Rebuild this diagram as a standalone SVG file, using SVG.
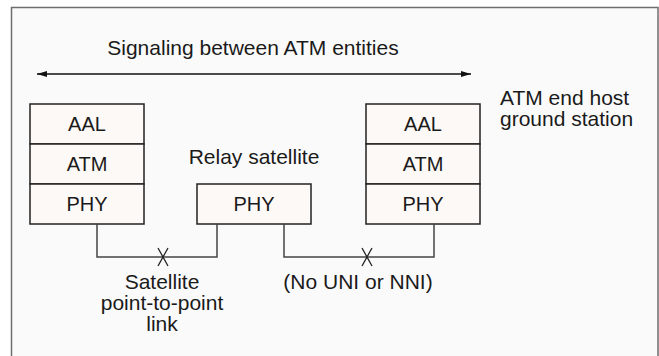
<svg xmlns="http://www.w3.org/2000/svg" width="659" height="356" viewBox="0 0 659 356">
<style>
  text { font-family: "Liberation Sans", Arial, sans-serif; fill: #1a1a1a; }
  .lbl { font-size: 21px; }
  .box { font-size: 20px; text-anchor: middle; }
  .cell { fill: #fdf9f6; stroke: #222; stroke-width: 1.5; }
  .conn { fill: none; stroke: #444; stroke-width: 1.5; }
  .mark { fill: none; stroke: #222; stroke-width: 1.3; }
</style>
<defs>
  <marker id="ah" viewBox="0 0 10 6" refX="10" refY="3" markerWidth="10" markerHeight="6" markerUnits="userSpaceOnUse" orient="auto-start-reverse">
    <path d="M0,0 L10,3 L0,6 Z" fill="#111"/>
  </marker>
</defs>
<rect x="0" y="0" width="659" height="356" fill="#ffffff"/>
<rect x="11.5" y="7.5" width="646.5" height="360" fill="#fafafa" stroke="#6e6e6e" stroke-width="1.5"/>

<g id="signaling">
  <text class="lbl" x="253" y="55" text-anchor="middle">Signaling between ATM entities</text>
  <line x1="37" y1="74" x2="471" y2="74" stroke="#111" stroke-width="1.5" marker-start="url(#ah)" marker-end="url(#ah)"/>
</g>

<g id="left-host">
  <rect class="cell" x="30" y="104" width="114" height="40"/>
  <rect class="cell" x="30" y="144" width="114" height="40"/>
  <rect class="cell" x="30" y="184" width="114" height="40"/>
  <text class="box" x="87" y="131">AAL</text>
  <text class="box" x="87" y="171">ATM</text>
  <text class="box" x="87" y="211">PHY</text>
</g>

<g id="relay">
  <text class="lbl" x="254" y="164" text-anchor="middle">Relay satellite</text>
  <rect class="cell" x="197" y="184" width="114" height="40"/>
  <text class="box" x="254" y="211">PHY</text>
</g>

<g id="right-host">
  <rect class="cell" x="366" y="104" width="114" height="40"/>
  <rect class="cell" x="366" y="144" width="114" height="40"/>
  <rect class="cell" x="366" y="184" width="114" height="40"/>
  <text class="box" x="423" y="131">AAL</text>
  <text class="box" x="423" y="171">ATM</text>
  <text class="box" x="423" y="211">PHY</text>
  <text class="lbl" x="500" y="105">ATM end host</text>
  <text class="lbl" x="500" y="126">ground station</text>
</g>

<g id="connectors">
  <path class="conn" d="M97 224 V257 H217 V224"/>
  <path class="conn" d="M284 224 V257 H434 V224"/>
  <path class="mark" d="M158 248 L168 266 M168 248 L158 266"/>
  <path class="mark" d="M362 248 L372 266 M372 248 L362 266"/>
  <text class="lbl" x="162" y="289" text-anchor="middle">Satellite</text>
  <text class="lbl" x="162" y="310" text-anchor="middle">point-to-point</text>
  <text class="lbl" x="162" y="331" text-anchor="middle">link</text>
  <text class="lbl" x="358" y="289" text-anchor="middle">(No UNI or NNI)</text>
</g>
</svg>
